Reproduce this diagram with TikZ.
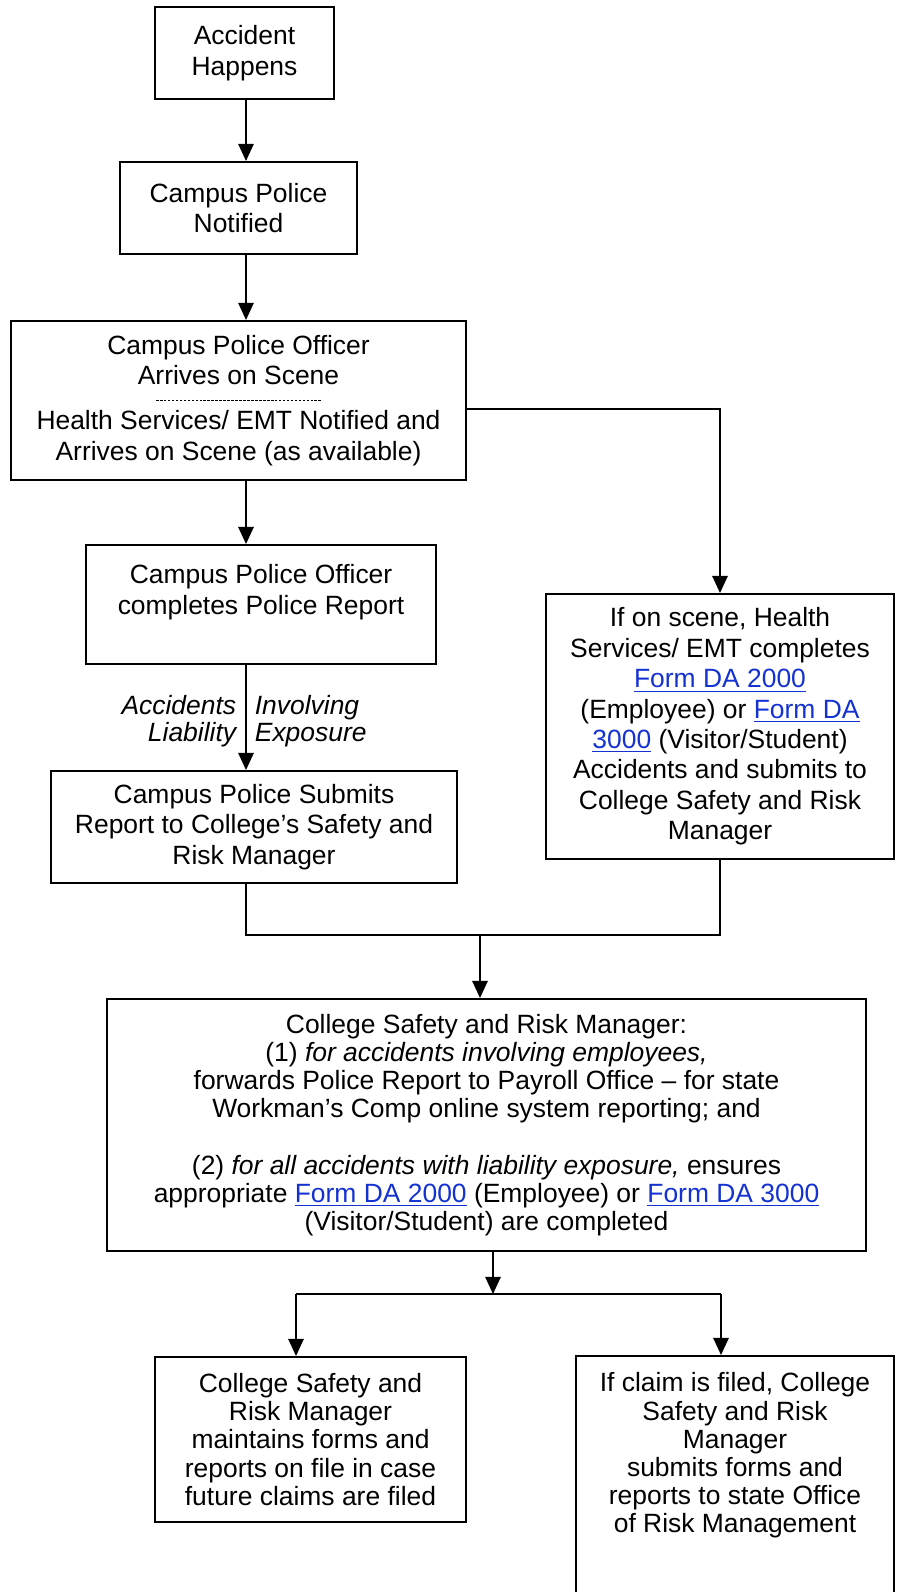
\documentclass[tikz,border=0pt]{standalone}
\usepackage{fontspec}
\setmainfont{Liberation Sans}
\usetikzlibrary{arrows.meta}
\definecolor{linkblue}{RGB}{20,50,210}
\newcommand{\formlink}[1]{\textcolor{linkblue}{\underline{#1}}}

\begin{document}
\begin{tikzpicture}[x=0.454pt, y=-0.454pt,
      font=\fontsize{12}{13.8}\selectfont,
      box/.style={draw, line width=0.9pt, align=center, inner sep=0pt},
      tight/.style={font=\fontsize{12}{12.8}\selectfont},
      lbl/.style={inner sep=0pt, font=\itshape\fontsize{12}{12.3}\selectfont},
      >={Triangle[length=7.8pt,width=7pt]}, line width=0.8pt]
      \useasboundingbox (0,0) rectangle (896,1592);
      \coordinate (spine) at (246,0);
      \node[box, minimum width=81.3pt, minimum height=41.8pt] (happens) at (244.5,53)
           {Accident\\Happens};
      \node[box, minimum width=107.6pt, minimum height=41.8pt] (notified) at (238.5,208)
           {Campus Police\\Notified};
      \node[box, minimum width=206.6pt, minimum height=72.2pt] (officer) at (238.5,400.5)
           {Campus Police Officer\\Arrives on Scene\\[6.6pt]Health Services/ EMT Notified and\\Arrives on Scene (as available)};
      \draw[very thin, dash pattern=on 1.2pt off 0.6pt] ([xshift=-37.5pt]officer.center) -- ([xshift=37.9pt]officer.center);
      \node[box, minimum width=158.9pt, minimum height=54pt] (report) at (261,604.5)
           {Campus Police Officer\\completes Police Report\\\mbox{}};
      \node[box, minimum width=158pt, minimum height=120.3pt] (health) at (720,726.5)
           {If on scene, Health\\Services/ EMT completes\\\formlink{Form DA 2000}\\(Employee) or \formlink{Form DA}\\\formlink{3000} (Visitor/Student)\\Accidents and submits to\\College Safety and Risk\\Manager};
      \node[box, minimum width=184.3pt, minimum height=50.8pt] (submits) at (254,827)
           {Campus Police Submits\\Report to College’s Safety and\\Risk Manager};
      \node[lbl, align=right, anchor=east] (accidents) at (237,721.5) {Accidents\\Liability};
      \node[lbl, align=left, anchor=west] (involving) at (254,721.5) {Involving\\Exposure};
      \node[box, tight, minimum width=344.6pt, minimum height=114.4pt] (manager) at (486.5,1125)
           {College Safety and Risk Manager:\\(1) \textit{for accidents involving employees,}\\forwards Police Report to Payroll Office – for state\\Workman’s Comp online system reporting; and\\[12.8pt](2) \textit{for all accidents with liability exposure,} ensures\\appropriate \formlink{Form DA 2000} (Employee) or \formlink{Form DA 3000}\\(Visitor/Student) are completed};
      \node[box, tight, minimum width=141.2pt, minimum height=74.9pt] (file) at (310.5,1439.5)
           {College Safety and\\Risk Manager\\maintains forms and\\reports on file in case\\future claims are filed};
      \node[box, tight, minimum width=144.4pt, minimum height=113.5pt] (claim) at (735,1481)
           {If claim is filed, College\\Safety and Risk\\Manager\\submits forms and\\reports to state Office\\of Risk Management\\\mbox{}\\\mbox{}};
      \draw[->] (happens.south -| spine) -- (notified.north -| spine);
      \draw[->] (notified.south -| spine) -- (officer.north -| spine);
      \draw[->] (officer.south -| spine) -- (report.north -| spine);
      \draw[->] (report.south -| spine) -- (submits.north -| spine);
      \draw[->] ([yshift=-3.8pt]officer.east) -| (health.north);
      \coordinate (join) at (480,935);
      \draw (submits.south -| spine) |- (join) -| (health.south);
      \draw[->] (join) -- (join |- manager.north);
      \coordinate (split) at (493,1294);
      \coordinate (forkl) at (296,1294);
      \coordinate (forkr) at (721,1294);
      \draw[->] (manager.south -| split) -- (split);
      \draw (forkl) -- (forkr);
      \draw[->] (forkl) -- (forkl |- file.north);
      \draw[->] (forkr) -- (forkr |- claim.north);
\end{tikzpicture}
\end{document}
